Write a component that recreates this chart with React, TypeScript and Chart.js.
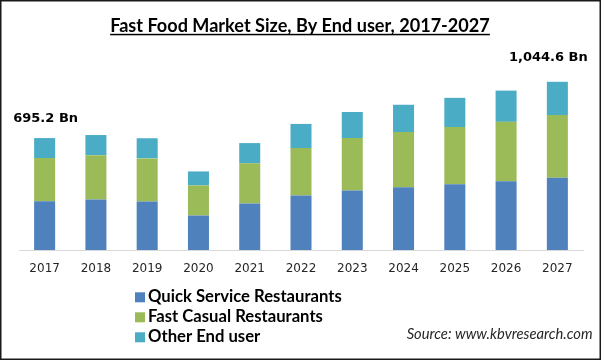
import React, { useEffect, useRef } from "react";
import { Chart, registerables } from "chart.js";

Chart.register(...registerables);

const years = ["2017", "2018", "2019", "2020", "2021", "2022", "2023", "2024", "2025", "2026", "2027"];
const quickService = [302, 314, 301, 214, 289, 339, 370, 389, 408, 427, 448];
const fastCasual = [269, 275, 268, 187, 250, 294, 325, 344, 356, 369, 390];
const otherEndUser = [124.2, 125, 125, 87, 125, 150, 162, 169, 181, 194, 206.6];
const seriesNames = ["Quick Service Restaurants", "Fast Casual Restaurants", "Other End user"];
const seriesColors = ["#4F81BD", "#9BBB59", "#4BACC6"];
const titleText = "Fast Food Market Size, By End user, 2017-2027";
const firstLabel = "695.2 Bn";
const lastLabel = "1,044.6 Bn";
const sourceText = "Source: www.kbvresearch.com";

function fitSize(ctx: CanvasRenderingContext2D, text: string, style: string, family: string, target: number) {
  ctx.font = `${style} 20px ${family}`;
  const w = ctx.measureText(text).width;
  return (20 * target) / w;
}

const decorPlugin = {
  id: "decor",
  afterDraw(chart: any) {
    const ctx: CanvasRenderingContext2D = chart.ctx;
    const W = chart.width;
    const H = chart.height;
    ctx.save();
    // border
    ctx.strokeStyle = "#1a1a1a";
    ctx.lineWidth = 1.5;
    ctx.strokeRect(0.75, 0.75, W - 1.5, H - 1.5);

    // title
    const tf = "Lato, 'Open Sans', sans-serif";
    const ts = fitSize(ctx, titleText, "bold", tf, 380);
    ctx.font = `bold ${ts}px ${tf}`;
    ctx.fillStyle = "#000";
    ctx.textAlign = "center";
    ctx.textBaseline = "alphabetic";
    ctx.fillText(titleText, 300, 31.5);
    const tw = ctx.measureText(titleText).width;
    ctx.fillRect(300 - tw / 2, 33.8, tw, 1.5);

    // annotations on first and last bars
    const meta = chart.getDatasetMeta(2);
    const b0 = meta.data[0];
    const bl = meta.data[meta.data.length - 1];
    ctx.font = "bold 13px 'DejaVu Sans', sans-serif";
    ctx.fillStyle = "#000";
    ctx.textAlign = "center";
    ctx.fillText(firstLabel, b0.x + 1, b0.y - 16);
    ctx.fillText(lastLabel, bl.x - 9, bl.y - 21);

    // legend
    const lf = "Lato, 'Open Sans', sans-serif";
    const ls = fitSize(ctx, seriesNames[0], "bold", lf, 194);
    ctx.font = `bold ${ls}px ${lf}`;
    ctx.textAlign = "left";
    for (let i = 0; i < 3; i++) {
      const base = 302.3 + i * 20;
      ctx.fillStyle = seriesColors[i];
      ctx.fillRect(135, base - 10, 10, 10);
      ctx.fillStyle = "#000";
      ctx.fillText(seriesNames[i], 148, base);
    }

    // source
    const ss = fitSize(ctx, sourceText, "italic", lf, 186);
    ctx.font = `italic ${ss}px ${lf}`;
    ctx.fillStyle = "#262626";
    ctx.textAlign = "right";
    ctx.fillText(sourceText, 592.5, 339);
    ctx.restore();
  },
};

export default function App() {
  const ref = useRef<HTMLCanvasElement | null>(null);
  useEffect(() => {
    if (!ref.current) return;
    const datasets = [quickService, fastCasual, otherEndUser].map((d, i) => ({
      label: seriesNames[i],
      data: d,
      backgroundColor: seriesColors[i],
      borderWidth: 0,
      categoryPercentage: 1,
      barPercentage: 0.41,
    }));
    const chart = new Chart(ref.current, {
      type: "bar",
      data: { labels: years, datasets },
      options: {
        responsive: false,
        animation: false,
        layout: { padding: { left: 19, right: 18, top: 60, bottom: 71.6 } },
        plugins: { legend: { display: false }, tooltip: { enabled: false }, title: { display: false } },
        scales: {
          x: {
            stacked: true,
            grid: { display: false, drawTicks: false },
            border: { display: true, color: "#D9D9D9", width: 1 },
            ticks: { padding: 12, color: "#262626", font: { family: "'DejaVu Sans', sans-serif", size: 12 } },
          },
          y: {
            stacked: true,
            display: false,
            min: 0,
            max: 1180,
          },
        },
      },
      plugins: [decorPlugin],
    });
    return () => chart.destroy();
  }, []);
  return (
    <div style={{ position: "absolute", left: 0, top: 0, width: 601, height: 360, background: "#fff" }}>
      <canvas ref={ref} width={601} height={360} style={{ display: "block" }} />
    </div>
  );
}
